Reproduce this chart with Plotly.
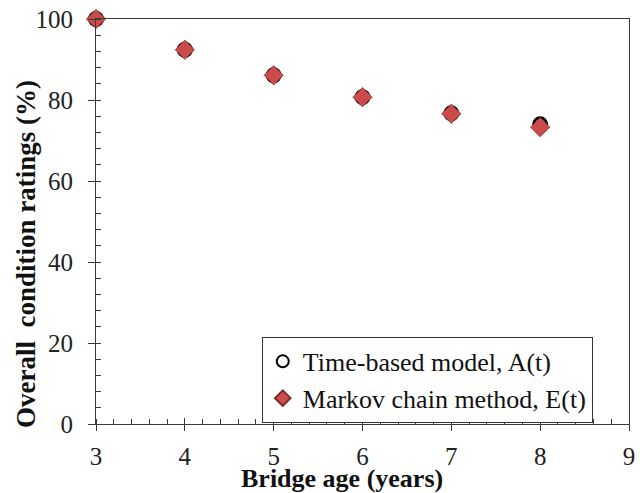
import plotly.graph_objects as go

ages = [3, 4, 5, 6, 7, 8]
time_based = [100, 92.4, 86.1, 80.7, 76.7, 74.0]
markov = [100, 92.4, 86.1, 80.7, 76.6, 73.3]
x_ticks = [3, 4, 5, 6, 7, 8, 9]
y_ticks = [0, 20, 40, 60, 80, 100]
x_title = "Bridge age (years)"
y_title = "Overall&nbsp; condition ratings (%)"

FONT = "Liberation Serif"
AX = "#3a3a3a"

fig = go.Figure()
fig.add_trace(go.Scatter(
    x=ages, y=time_based, mode="markers", name="Time-based model, A(t)",
    cliponaxis=False,
    marker=dict(symbol="circle", size=13, color="white",
                line=dict(color="black", width=3)),
))
fig.add_trace(go.Scatter(
    x=ages, y=markov, mode="markers", name="Markov chain method, E(t)",
    cliponaxis=False,
    marker=dict(symbol="diamond", size=15, color="#CB4B4B",
                line=dict(color="#7a2a2a", width=0.6)),
))

fig.update_layout(
    width=640, height=493,
    margin=dict(l=96, r=11, t=19, b=69, autoexpand=False),
    paper_bgcolor="white", plot_bgcolor="white",
    font=dict(family=FONT, size=21, color="#222"),
    showlegend=True,
    legend=dict(
        x=0.311, y=0.215, xanchor="left", yanchor="top",
        bgcolor="white", bordercolor="#333", borderwidth=1,
        font=dict(family=FONT, size=26, color="#111"),
        itemwidth=30, tracegroupgap=0, itemsizing="constant",
    ),
    xaxis=dict(
        range=[3, 9], tickvals=x_ticks, ticks="outside", ticklen=6,
        tickcolor=AX, linecolor=AX, linewidth=1.2, mirror=True,
        showgrid=False, zeroline=False,
        minor=dict(ticks="inside", dtick=0.2, ticklen=5, tickcolor=AX, showgrid=False),
        tickfont=dict(family=FONT, size=25, color="#222"),
        ticklabelstandoff=4,
    ),
    yaxis=dict(
        range=[0, 100], tickvals=y_ticks, ticks="outside", ticklen=7,
        tickcolor=AX, linecolor=AX, linewidth=1.2, mirror=True,
        showgrid=False, zeroline=False,
        minor=dict(ticks="inside", dtick=4, ticklen=5, tickcolor=AX, showgrid=False),
        tickfont=dict(family=FONT, size=25, color="#222"),
        ticklabelstandoff=10,
    ),
    xaxis2=dict(
        range=[3, 9], tickvals=x_ticks, ticks="inside", ticklen=6, tickcolor=AX,
        showticklabels=False, overlaying="x", side="bottom", showgrid=False,
        zeroline=False, showline=False, anchor="y",
    ),
    yaxis2=dict(
        range=[0, 100], tickvals=y_ticks, ticks="inside", ticklen=5, tickcolor=AX,
        showticklabels=False, overlaying="y", side="left", showgrid=False,
        zeroline=False, showline=False, anchor="x",
    ),
)

fig.add_annotation(
    text="<b>" + x_title + "</b>", xref="paper", yref="paper",
    x=0.4615, y=0, xanchor="center", yanchor="top", yshift=-38,
    showarrow=False, font=dict(family=FONT, size=26, color="#111"),
)
fig.add_annotation(
    text="<b>" + y_title + "</b>", xref="paper", yref="paper",
    x=-0.1313, y=0.42, xanchor="center", yanchor="middle", textangle=-90,
    showarrow=False, font=dict(family=FONT, size=27, color="#111"),
)

fig.add_trace(go.Scatter(x=[None], y=[None], xaxis="x2", yaxis="y2",
                         showlegend=False, hoverinfo="skip"))

fig.write_html("out.html")
